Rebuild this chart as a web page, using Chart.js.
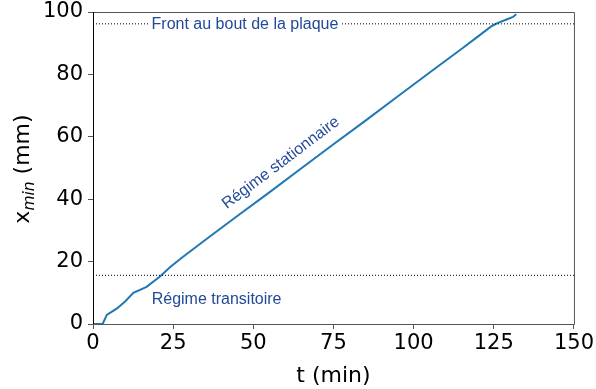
<!DOCTYPE html>
<html>
<head>
<meta charset="utf-8">
<script src="https://cdn.jsdelivr.net/npm/chart.js@4.4.1/dist/chart.umd.min.js"></script>
<style>
	html, body { margin: 0; padding: 0; background: #fff; }
	#wrap { width: 596px; height: 389px; }
</style>
</head>
<body>
<div id="wrap"><canvas id="chart" width="596" height="389"></canvas></div>
<script>
// front position x_min (mm) against time t (min)
const timeMin = [0, 3, 4.3, 7.5, 10, 12.6, 16.7, 20.9, 24, 28, 35, 45, 55, 65, 75, 85, 95, 105, 115, 120, 124.5, 126.5, 129, 131, 132];
const xMin = [0, 0, 2.9, 5, 7.2, 10, 11.9, 15.2, 18.2, 21.5, 26.9, 34.6, 42.2, 49.9, 57.6, 65.2, 72.9, 80.6, 88.2, 92.1, 95.6, 96.6, 97.6, 98.4, 99.3];

// reference levels (dotted lines)
const frontLevel = 96.2;
const transientLevel = 15.6;

const xRange = [0, 150];
const yRange = [0, 100];

const textBlue = '#23499a';
const noteFont = '16px "Liberation Sans", Arial, sans-serif';

function toPoints(xs, ys) {
	return xs.map((x, i) => ({ x: x, y: ys[i] }));
}

function levelLine(value) {
	return {
		data: [{ x: xRange[0], y: value }, { x: xRange[1], y: value }],
		borderColor: '#000',
		borderWidth: 1,
		borderDash: [1, 2],
		pointRadius: 0,
		showLine: true,
		fill: false
	};
}

// frame: left spine black, others gray
const framePlugin = {
	id: 'frame',
	afterDatasetsDraw(chart) {
		const ctx = chart.ctx;
		const a = chart.chartArea;
		ctx.save();
		ctx.lineWidth = 1;
		ctx.strokeStyle = '#555';
		ctx.beginPath();
		ctx.moveTo(a.left, a.top + 0.5);
		ctx.lineTo(a.right + 0.5, a.top + 0.5);
		ctx.lineTo(a.right + 0.5, a.bottom + 0.5);
		ctx.lineTo(a.left, a.bottom + 0.5);
		ctx.stroke();
		ctx.strokeStyle = '#000';
		ctx.beginPath();
		ctx.moveTo(a.left + 0.5, a.top);
		ctx.lineTo(a.left + 0.5, a.bottom);
		ctx.stroke();
		ctx.restore();
	}
};

// text notes placed in data coordinates
const notesPlugin = {
	id: 'notes',
	afterDatasetsDraw(chart) {
		const ctx = chart.ctx;
		const xs = chart.scales.x;
		const ys = chart.scales.y;
		ctx.save();
		ctx.font = noteFont;
		ctx.fillStyle = textBlue;

		// top note with white box over the dotted line
		const fx = xs.getPixelForValue(47.4);
		const fy = ys.getPixelForValue(94.45);
		const label = 'Front au bout de la plaque';
		const w = ctx.measureText(label).width;
		ctx.fillStyle = '#fff';
		ctx.fillRect(fx - w / 2 - 3, fy - 14, w + 6, 18);
		ctx.fillStyle = textBlue;
		ctx.textAlign = 'center';
		ctx.textBaseline = 'alphabetic';
		ctx.fillText(label, fx, fy);

		ctx.textAlign = 'left';
		ctx.fillText('Régime transitoire', xs.getPixelForValue(18.3), ys.getPixelForValue(6.3));

		ctx.translate(xs.getPixelForValue(58.6), ys.getPixelForValue(51.6));
		ctx.rotate(-37 * Math.PI / 180);
		ctx.textAlign = 'center';
		ctx.textBaseline = 'middle';
		ctx.fillText('Régime stationnaire', 0, 0);
		ctx.restore();
	}
};

// y title with italic subscript
const yTitlePlugin = {
	id: 'yTitle',
	afterDraw(chart) {
		const ctx = chart.ctx;
		const main = '22px "DejaVu Sans", sans-serif';
		const sub = 'italic 15.5px "DejaVu Sans", sans-serif';
		const parts = [
			{ text: 'x', font: main, dy: 0 },
			{ text: 'min', font: sub, dy: 5 },
			{ text: ' (mm)', font: main, dy: 0 }
		];
		ctx.save();
		let total = 0;
		parts.forEach((p) => {
			ctx.font = p.font;
			p.w = ctx.measureText(p.text).width;
			total += p.w;
		});
		ctx.translate(29, 169);
		ctx.rotate(-Math.PI / 2);
		ctx.fillStyle = '#000';
		ctx.textBaseline = 'alphabetic';
		ctx.textAlign = 'left';
		let cx = -total / 2;
		parts.forEach((p) => {
			ctx.font = p.font;
			ctx.fillText(p.text, cx, p.dy);
			cx += p.w;
		});
		ctx.restore();
	}
};

const tickFont = { family: '"DejaVu Sans", sans-serif', size: 21 };

new Chart(document.getElementById('chart').getContext('2d'), {
	type: 'scatter',
	data: {
		datasets: [
			levelLine(frontLevel),
			levelLine(transientLevel),
			{
				data: toPoints(timeMin, xMin),
				borderColor: '#1f77b4',
				borderWidth: 2,
				pointRadius: 0,
				showLine: true,
				fill: false,
				tension: 0
			}
		]
	},
	options: {
		responsive: false,
		animation: false,
		layout: { padding: { top: 12, right: 22, left: 0, bottom: 0 } },
		plugins: {
			legend: { display: false },
			tooltip: { enabled: false }
		},
		scales: {
			x: {
				type: 'linear',
				min: xRange[0],
				max: xRange[1],
				afterFit(scale) { scale.height = 65; },
				border: { display: false },
				grid: { drawOnChartArea: false, tickLength: 5, color: '#555', tickColor: '#555' },
				ticks: { stepSize: 25, color: '#000', font: tickFont, padding: 2, maxRotation: 0 },
				title: {
					display: true,
					text: 't (min)',
					color: '#000',
					font: { family: '"DejaVu Sans", sans-serif', size: 22 },
					padding: { top: 0, bottom: 0 }
				}
			},
			y: {
				type: 'linear',
				min: yRange[0],
				max: yRange[1],
				afterFit(scale) {
					scale.width = 93;
					scale.paddingTop = 0;
					scale.paddingBottom = 0;
				},
				border: { display: false },
				grid: { drawOnChartArea: false, tickLength: 5, color: '#555', tickColor: '#555' },
				ticks: { stepSize: 20, color: '#000', font: tickFont, padding: 5 }
			}
		}
	},
	plugins: [framePlugin, notesPlugin, yTitlePlugin]
});
</script>
</body>
</html>
